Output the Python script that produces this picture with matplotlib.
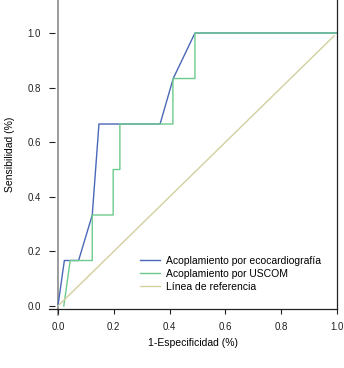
import numpy as np
import matplotlib
matplotlib.use("Agg")
import matplotlib.pyplot as plt

plt.rcParams['font.family'] = ['Liberation Sans', 'DejaVu Sans']

# ROC curves
eco_x = [0.0, 0.023, 0.074, 0.123, 0.147, 0.366, 0.413, 0.491, 1.0]
eco_y = [0.0, 1/6, 1/6, 1/3, 2/3, 2/3, 5/6, 1.0, 1.0]

uscom_x = [0.021, 0.044, 0.123, 0.123, 0.198, 0.198, 0.222, 0.222, 0.412, 0.412, 0.491, 0.491, 1.0]
uscom_y = [0.0, 1/6, 1/6, 1/3, 1/3, 0.5, 0.5, 2/3, 2/3, 5/6, 5/6, 1.0, 1.0]

ref_x = [0.0, 0.99]
ref_y = [0.0, 0.99]

labels = ['Acoplamiento por ecocardiografía', 'Acoplamiento por USCOM', 'Línea de referencia']
colors = ['#4a68b8', '#6ccb8c', '#d3cf9f']

fig = plt.figure(figsize=(3.44, 3.68), dpi=100)
ax = fig.add_axes([49/344, 59/368, 288/344, 309/368])

ax.plot(eco_x, eco_y, color=colors[0], lw=1.0, label=labels[0])
ax.plot(uscom_x, uscom_y, color=colors[1], lw=1.0, label=labels[1])
ax.plot(ref_x, ref_y, color=colors[2], lw=1.0, label=labels[2])

ax.set_xlim(-0.032, 1.0)
ax.set_ylim(-0.011, 1.121)

ax.spines['top'].set_visible(False)
ax.spines['left'].set_visible(False)
ax.spines['bottom'].set_color('#222222')
ax.spines['right'].set_color('#222222')
ax.spines['bottom'].set_linewidth(0.9)
ax.spines['right'].set_linewidth(0.9)
ax.axvline(0.0, ymin=-0.019, ymax=1.0, color='#8a8a8a', lw=1.2, clip_on=False, zorder=1)

ax.set_xticks(np.arange(0, 1.01, 0.2))
ax.set_yticks(np.arange(0, 1.01, 0.2))
ax.set_xticklabels(['0.0', '0.2', '0.4', '0.6', '0.8', '1.0'])
ax.set_yticklabels(['0.0', '0.2', '0.4', '0.6', '0.8', '1.0'])
ax.tick_params(axis='x', direction='out', length=3.6, width=0.8, pad=6.0, labelsize=7, colors='#222222')
ax.tick_params(axis='y', direction='in', length=4.5, width=0.8, pad=6.0, labelsize=7, colors='#222222')

ax.set_xlabel('1-Especificidad (%)', fontsize=7.5, labelpad=4)
ax.set_ylabel('Sensibilidad (%)', fontsize=7.5, labelpad=9)

ax.legend(loc='upper left', bbox_to_anchor=(0.316, 0.172), frameon=False, fontsize=7.5,
          borderpad=0, borderaxespad=0, handlelength=1.9, handletextpad=0.6, labelspacing=0.3)

fig.savefig('out.png', dpi=100)
